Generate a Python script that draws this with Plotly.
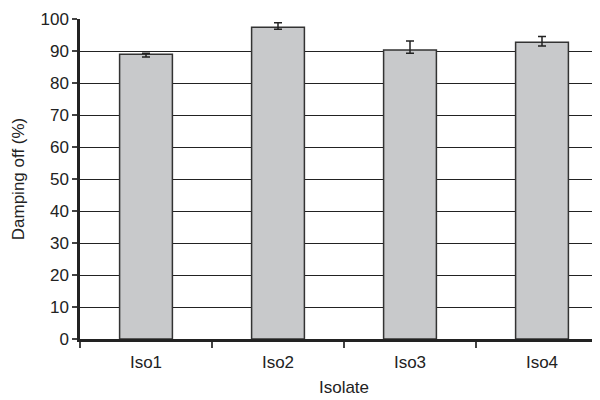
import plotly.graph_objects as go

categories = ["Iso1", "Iso2", "Iso3", "Iso4"]
values = [89.0, 97.4, 90.3, 92.7]
err_plus = [0.3, 1.4, 2.8, 1.8]
err_minus = [0.9, 0.6, 1.0, 1.1]
y_ticks = list(range(0, 101, 10))

FONT = "Liberation Sans Narrow, Liberation Sans, sans-serif"

fig = go.Figure()
fig.add_trace(go.Bar(
    x=categories, y=values, width=0.4,
    marker=dict(color="#c8c9cb", line=dict(color="#333333", width=1.5)),
    error_y=dict(type="data", symmetric=False, array=err_plus, arrayminus=err_minus,
                 color="#222222", thickness=1.5, width=4),
))

# page body has an 8px margin: compensate in figure margins
fig.update_layout(
    width=600, height=400,
    margin=dict(l=72, r=0, t=11, b=69),
    paper_bgcolor="white", plot_bgcolor="white",
    showlegend=False,
    font=dict(family=FONT, size=17, color="#222222"),
    xaxis=dict(
        type="category", tickson="boundaries", ticks="outside", ticklen=6,
        tickwidth=1.5, tickcolor="#444444", ticklabelstandoff=6,
        showline=True, linecolor="#222222", linewidth=2.5,
        showgrid=False, range=[-0.5, 3.5],
        title=dict(text="Isolate", font=dict(size=17), standoff=10),
    ),
    yaxis=dict(
        range=[0, 100], tickvals=y_ticks, ticks="outside", ticklen=5,
        tickwidth=1.5, tickcolor="#444444",
        showline=True, linecolor="#222222", linewidth=2.5,
        showgrid=True, gridcolor="#222222", gridwidth=1.2,
        zeroline=False,
        title=dict(text="Damping off (%)", font=dict(size=17), standoff=12),
    ),
)

fig.write_html("out.html")
